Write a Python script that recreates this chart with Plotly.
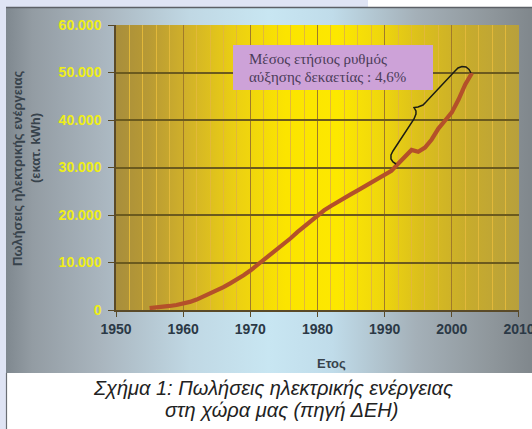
import base64
import plotly.graph_objects as go

# Annual electricity sales (million kWh)
years = list(range(1955, 2004))
sales = [
    400, 500, 650, 850, 1050,
    1300, 1700, 2200, 2800, 3400, 4100, 4800, 5600, 6400, 7300,
    8300, 9400, 10500, 11600, 12700, 13900, 15100, 16400, 17600, 18800,
    20000, 21000, 21900, 22800, 23600, 24400, 25200, 26000, 26800, 27500,
    28300, 29300, 30800, 32200, 33700, 33300, 34200, 35900, 38200, 39900,
    41600, 44300, 47500, 49900,
]

y_tick_vals = [0, 10000, 20000, 30000, 40000, 50000, 60000]
y_tick_text = ["0", "10.000", "20.000", "30.000", "40.000", "50.000", "60.000"]
x_tick_vals = [1950, 1960, 1970, 1980, 1990, 2000, 2010]

y_title = ["Πωλήσεις ηλεκτρικής ενέργειας", "(εκατ. kWh)"]
x_title = "Ετος"
note_lines = ["Μέσος ετήσιος ρυθμός", "αύξησης δεκαετίας : 4,6%"]
caption_lines = ["Σχήμα 1: Πωλήσεις ηλεκτρικής ενέργειας", "στη χώρα μας (πηγή ΔΕΗ)"]

# Curly brace spanning the last decade (year, value)
brace_x = [1991.69, 1991.24, 1990.94, 1990.94, 1991.24, 1991.54, 1994.37, 1994.66,
           1994.66, 1994.37, 1994.96, 1995.71, 1996.15, 2000.47, 2000.92, 2001.51,
           2002.11, 2002.56, 2002.85]
brace_y = [30737, 31158, 31789, 32632, 33474, 34105, 40211, 41263,
           41895, 42632, 42737, 43158, 43789, 50316, 50947, 51263,
           51158, 50632, 49895]

W, H = 532, 429


def px(x):
    return x / W


def py(y):
    return 1 - y / H


def gradient_uri(stops):
    stop_xml = "".join(
        f'<stop offset="{o}" stop-color="{c}"/>' for o, c in stops
    )
    svg = (
        '<svg xmlns="http://www.w3.org/2000/svg" width="100" height="100" '
        'viewBox="0 0 100 100" preserveAspectRatio="none">'
        '<defs><linearGradient id="g" x1="0" y1="0" x2="1" y2="0">'
        f'{stop_xml}</linearGradient></defs>'
        '<rect width="100" height="100" fill="url(#g)"/></svg>'
    )
    return "data:image/svg+xml;base64," + base64.b64encode(svg.encode()).decode()


panel_stops = [
    (0.00, "#7f888f"), (0.05, "#939ca3"), (0.18, "#a9b5be"), (0.35, "#c0d8e4"),
    (0.50, "#c8e6f2"), (0.62, "#c0dcea"), (0.78, "#a4b0b8"), (0.92, "#8f979c"),
    (1.00, "#80878c"),
]
plot_stops = [
    (0.00, "#a88e3c"), (0.08, "#b89a34"), (0.17, "#d0b02a"), (0.30, "#ecd012"),
    (0.42, "#fbe400"), (0.55, "#fde800"), (0.65, "#f0d80c"), (0.75, "#dcc01c"),
    (0.87, "#c8ac2c"), (1.00, "#b8a03c"),
]

fig = go.Figure()

fig.add_trace(go.Scatter(
    x=years, y=sales, mode="lines",
    line=dict(color="#b4502a", width=4.2),
    hoverinfo="skip", showlegend=False,
))

fig.add_trace(go.Scatter(
    x=brace_x, y=brace_y, mode="lines",
    line=dict(color="#1c1c14", width=1.5),
    hoverinfo="skip", showlegend=False,
))

x0d, x1d = 116 / W, 519 / W
y0d, y1d = py(310), py(25)

fig.update_layout(
    width=W, height=H,
    margin=dict(l=0, r=0, t=0, b=0),
    paper_bgcolor="#dfe4f4",
    plot_bgcolor="rgba(0,0,0,0)",
    showlegend=False,
    xaxis=dict(
        domain=[x0d, x1d], range=[1950, 2010.001], automargin=False,
        tickvals=x_tick_vals, ticks="outside", ticklen=5, tickcolor="#5a4a28",
        ticklabeloverflow="allow",
        tickfont=dict(family="Liberation Sans", size=14, color="#2b3946", weight="bold"),
        showline=True, linecolor="#5a4a28", linewidth=1.5,
        showgrid=True, gridcolor="#a07a2a", gridwidth=1.3,
        minor=dict(dtick=2, tick0=1950, showgrid=True, gridcolor="#e2b83a", gridwidth=1),
        zeroline=False, fixedrange=True,
    ),
    yaxis=dict(
        domain=[y0d, y1d], range=[0, 60000], automargin=False,
        tickvals=y_tick_vals, ticktext=y_tick_text,
        ticks="outside", ticklen=6, tickcolor="#5a4a28", ticklabelstandoff=4,
        tickfont=dict(family="Liberation Sans", size=14, color="#eeee18", weight="bold"),
        showline=True, linecolor="#5a4a28", linewidth=1.5,
        showgrid=True, gridcolor="#6b5a1e", gridwidth=1.5,
        zeroline=False, fixedrange=True,
    ),
    images=[
        dict(source=gradient_uri(panel_stops), xref="paper", yref="paper",
             x=px(6), y=py(7), sizex=526 / W, sizey=366 / H,
             xanchor="left", yanchor="top", sizing="stretch", layer="below"),
        dict(source=gradient_uri(plot_stops), xref="paper", yref="paper",
             x=x0d, y=y1d, sizex=x1d - x0d, sizey=y1d - y0d,
             xanchor="left", yanchor="top", sizing="stretch", layer="below"),
    ],
    shapes=[
        # white strip at top right and caption area
        dict(type="rect", xref="paper", yref="paper", x0=px(368), x1=px(532),
             y0=py(0), y1=py(7), fillcolor="white", line_width=0, layer="below"),
        dict(type="rect", xref="paper", yref="paper", x0=px(6), x1=px(532),
             y0=py(373), y1=py(429), fillcolor="white", line_width=0, layer="below"),
        dict(type="line", xref="paper", yref="paper", x0=px(6), x1=px(532),
             y0=py(7.5), y1=py(7.5), line=dict(color="#5c6066", width=1.5)),
        dict(type="line", xref="paper", yref="paper", x0=px(6.5), x1=px(6.5),
             y0=py(373), y1=py(429), line=dict(color="#6a6e74", width=1.2)),
        # note box
        dict(type="rect", xref="paper", yref="paper", x0=px(233), x1=px(433),
             y0=py(90), y1=py(45), fillcolor="#cda2d8", line_width=0),
    ],
    annotations=[
        dict(text=f"<b>{y_title[0]}</b>", xref="paper", yref="paper",
             x=px(17), y=py(168), textangle=-90, showarrow=False,
             xanchor="center", yanchor="middle",
             font=dict(family="Liberation Sans", size=13, color="#38434c")),
        dict(text=f"<b>{y_title[1]}</b>", xref="paper", yref="paper",
             x=px(35), y=py(148), textangle=-90, showarrow=False,
             xanchor="center", yanchor="middle",
             font=dict(family="Liberation Sans", size=13, color="#38434c")),
        dict(text=f"<b>{x_title}</b>", xref="paper", yref="paper",
             x=px(331), y=py(363), showarrow=False,
             xanchor="center", yanchor="middle",
             font=dict(family="Liberation Sans", size=13, color="#38434c")),
        dict(text=note_lines[0], xref="paper", yref="paper",
             x=px(247), y=py(59), showarrow=False, align="left",
             xanchor="left", yanchor="middle",
             font=dict(family="Liberation Serif", size=15, color="#4b3c58")),
        dict(text=note_lines[1], xref="paper", yref="paper",
             x=px(247), y=py(77), showarrow=False, align="left",
             xanchor="left", yanchor="middle",
             font=dict(family="Liberation Serif", size=15, color="#4b3c58")),
        dict(text=f"<i>{caption_lines[0]}</i>", xref="paper", yref="paper",
             x=px(273), y=py(388), showarrow=False,
             xanchor="center", yanchor="middle",
             font=dict(family="Liberation Sans", size=20, color="#222222")),
        dict(text=f"<i>{caption_lines[1]}</i>", xref="paper", yref="paper",
             x=px(281), y=py(410), showarrow=False,
             xanchor="center", yanchor="middle",
             font=dict(family="Liberation Sans", size=20, color="#222222")),
    ],
)

fig.write_html("out.html")
